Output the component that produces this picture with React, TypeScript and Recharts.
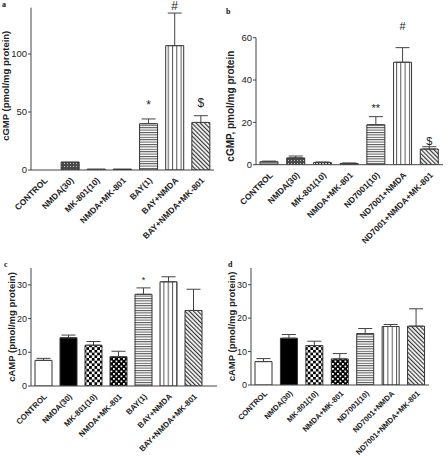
import React from "react";
import { BarChart, Bar, XAxis, YAxis, ErrorBar, Cell, LabelList } from "recharts";

// treatment groups
const bayGroups = ["CONTROL", "NMDA(30)", "MK-801(10)", "NMDA+MK-801", "BAY(1)", "BAY+NMDA", "BAY+NMDA+MK-801"];
const ndGroups = ["CONTROL", "NMDA(30)", "MK-801(10)", "NMDA+MK-801", "ND7001(10)", "ND7001+NMDA", "ND7001+NMDA+MK-801"];

// panel a: cGMP, BAY
const cgmpBayMean = [0, 6.9, 0.8, 0.8, 39.9, 107.2, 41];
const cgmpBayErr = [null, null, null, null, 4.1, 28.1, 5.8];
const cgmpBayMark = ["", "", "", "", "*", "#", "$"];

// panel b: cGMP, ND7001
const cgmpNdMean = [1.4, 3.2, 1.0, 0.6, 18.9, 48.4, 7.4];
const cgmpNdErr = [0.3, 0.9, 0.3, 0.2, 3.8, 6.9, 1.1];
const cgmpNdMark = ["", "", "", "", "**", "#", "$"];

// panel c: cAMP, BAY
const campBayMean = [7.6, 14.3, 12.1, 8.7, 27.2, 30.9, 22.4];
const campBayErr = [0.6, 0.8, 1.1, 1.6, 1.9, 1.5, 6.3];
const campBayMark = ["", "", "", "", "*", "", ""];

// panel d: cAMP, ND7001
const campNdMean = [7.0, 14.0, 11.8, 7.8, 15.4, 17.5, 17.6];
const campNdErr = [0.9, 1.1, 1.3, 1.6, 1.5, 0.6, 5.2];
const campNdMark = ["", "", "", "", "", "", ""];

const SANS = "'Liberation Sans', Arial, sans-serif";
const INK = "#222";
const AXIS = "#444";

const fillsTop = ["#ffffff", "url(#p-dark)", "url(#p-dots)", "#333", "url(#p-hlines)", "url(#p-vlines)", "url(#p-diag)"];
const fillsTopB = ["#9a9a9a", "url(#p-dark)", "url(#p-dots)", "#333", "url(#p-hlines)", "url(#p-vlines)", "url(#p-diag)"];
const fillsBottom = ["#ffffff", "#000000", "url(#p-check)", "url(#p-blackdots)", "url(#p-hlines)", "url(#p-vlines)", "url(#p-diag)"];

const Patterns = () => (
  <svg width={0} height={0} style={{ position: "absolute" }}>
    <defs>
      <pattern id="p-dark" width={3} height={3} patternUnits="userSpaceOnUse">
        <rect width={3} height={3} fill="#4a4a4a" />
        <rect x={1} y={1} width={1} height={1} fill="#c8c8c8" />
      </pattern>
      <pattern id="p-dots" width={3} height={3} patternUnits="userSpaceOnUse">
        <rect width={3} height={3} fill="#fff" />
        <rect x={1} y={1} width={1.2} height={1.2} fill="#222" />
      </pattern>
      <pattern id="p-check" width={5.4} height={5.4} patternUnits="userSpaceOnUse">
        <rect width={5.4} height={5.4} fill="#fff" />
        <rect width={2.7} height={2.7} fill="#000" />
        <rect x={2.7} y={2.7} width={2.7} height={2.7} fill="#000" />
      </pattern>
      <pattern id="p-blackdots" width={5} height={5} patternUnits="userSpaceOnUse">
        <rect width={5} height={5} fill="#000" />
        <rect x={0.5} y={0.5} width={1.8} height={1.8} fill="#fff" />
        <rect x={3} y={3} width={1.8} height={1.8} fill="#fff" />
      </pattern>
      <pattern id="p-hlines" width={4} height={2.4} patternUnits="userSpaceOnUse">
        <rect width={4} height={2.4} fill="#fff" />
        <rect y={0} width={4} height={1} fill="#555" />
      </pattern>
      <pattern id="p-vlines" width={4.3} height={4} patternUnits="userSpaceOnUse">
        <rect width={4.3} height={4} fill="#fff" />
        <rect x={0} width={1} height={4} fill="#555" />
      </pattern>
      <pattern id="p-diag" width={3} height={3} patternUnits="userSpaceOnUse" patternTransform="rotate(-45)">
        <rect width={3} height={3} fill="#fff" />
        <rect x={0} width={1.2} height={3} fill="#333" />
      </pattern>
    </defs>
  </svg>
);

const CatTick = ({ x, y, payload, fs, drop }: any) => {
  const ax = x + 4;
  const ay = y + drop;
  return (
    <text
      x={ax}
      y={ay}
      transform={`rotate(-45, ${ax}, ${ay})`}
      textAnchor="end"
      fontSize={fs}
      fontWeight="bold"
      fontFamily={SANS}
      fill={INK}
    >
      {payload.value}
    </text>
  );
};

const YLabel = ({ viewBox, text, cx, fs, dy }: any) => {
  const cy = viewBox.y + viewBox.height / 2 + dy;
  return (
    <text
      x={cx}
      y={cy}
      transform={`rotate(-90, ${cx}, ${cy})`}
      textAnchor="middle"
      dominantBaseline="central"
      fontSize={fs}
      fontWeight="bold"
      fontFamily={SANS}
      fill={INK}
    >
      {text}
    </text>
  );
};

function Panel(props: any) {
  const { left, top, w, h, plotL, plotR, plotT, plotB, groups, mean, err, mark, fills, domain, ticks, padRight, barSize,
    yLabel, yLabelX, yLabelDy, yLabelFs, tickFs, catFs, catDrop, markFs, markLift } = props;

  const rows = groups.map((g: string, i: number) => ({
    name: g,
    mean: mean[i],
    err: err[i] == null ? null : [0, err[i]],
  }));

  // marks (* # $) sit just above each error bar
  const renderMark = (p: any) => {
    const vb = p.viewBox || p;
    const i = groups.indexOf(p.value);
    if (i < 0 || !mark[i]) return null;
    const v = mean[i];
    const e = err[i] || 0;
    const topPx = vb.y - (vb.height / v) * e;
    return (
      <text key={`m-${i}`} x={vb.x + vb.width / 2} y={topPx - markLift[i]} textAnchor="middle" fontSize={markFs} fontFamily={SANS} fill={INK}>
        {mark[i]}
      </text>
    );
  };

  return (
    <div style={{ position: "absolute", left, top }}>
      <BarChart
        width={w}
        height={h}
        data={rows}
        margin={{ top: plotT, right: w - plotR, bottom: 0, left: 0 }}
        barSize={barSize}
      >
        <XAxis
          dataKey="name"
          height={h - plotB}
          interval={0}
          tickLine={false}
          tickSize={0}
          axisLine={{ stroke: AXIS }}
          padding={{ left: 0, right: padRight }}
          tick={<CatTick fs={catFs} drop={catDrop} />}
        />
        <YAxis
          width={plotL}
          domain={domain}
          ticks={ticks}
          allowDataOverflow
          tickSize={3}
          tickMargin={1}
          axisLine={{ stroke: AXIS }}
          tickLine={{ stroke: AXIS }}
          tick={{ fontSize: tickFs, fill: INK, fontFamily: SANS }}
          label={<YLabel text={yLabel} cx={yLabelX} fs={yLabelFs} dy={yLabelDy} />}
        />
        <Bar dataKey="mean" stroke="#333" strokeWidth={1} isAnimationActive={false}>
          {rows.map((r: any, i: number) => (
            <Cell key={`c-${i}`} fill={fills[i]} />
          ))}
          <ErrorBar dataKey="err" direction="y" width={7} stroke={AXIS} strokeWidth={1} isAnimationActive={false} />
          <LabelList dataKey="name" content={renderMark} />
        </Bar>
      </BarChart>
    </div>
  );
}

const letterStyle: React.CSSProperties = {
  position: "absolute",
  fontFamily: "'Liberation Serif', serif",
  fontWeight: "bold",
  fontSize: 8,
  lineHeight: "8px",
  color: "#111",
};

export default function App() {
  return (
    <div style={{ position: "absolute", left: 0, top: 0, width: 448, height: 456, background: "#fff", overflow: "hidden" }}>
      <Patterns />
      <Panel
        left={0} top={0} w={224} h={245}
        plotL={31} plotR={214} plotT={7.6} plotB={170}
        groups={bayGroups} mean={cgmpBayMean} err={cgmpBayErr} mark={cgmpBayMark} fills={fillsTop}
        domain={[0, 140]} ticks={[0, 50, 100]} padRight={0} barSize={18}
        yLabel="cGMP (pmol/mg protein)" yLabelX={6} yLabelDy={-3} yLabelFs={9.5}
        tickFs={9.5} catFs={8.5} catDrop={9} markFs={12} markLift={[0, 0, 0, 0, 10, 3, 9]}
      />
      <Panel
        left={224} top={0} w={224} h={245}
        plotL={32} plotR={219} plotT={37.7} plotB={164.7}
        groups={ndGroups} mean={cgmpNdMean} err={cgmpNdErr} mark={cgmpNdMark} fills={fillsTopB}
        domain={[0, 60]} ticks={[0, 20, 40, 60]} padRight={0} barSize={18}
        yLabel="cGMP, pmol/mg protein" yLabelX={7} yLabelDy={5} yLabelFs={10}
        tickFs={9.5} catFs={8.5} catDrop={9} markFs={11} markLift={[0, 0, 0, 0, 5, 18, 2]}
      />
      <Panel
        left={0} top={250} w={224} h={206}
        plotL={31} plotR={217} plotT={18} plotB={136}
        groups={bayGroups} mean={campBayMean} err={campBayErr} mark={campBayMark} fills={fillsBottom}
        domain={[0, 35]} ticks={[0, 10, 20, 30]} padRight={11} barSize={17}
        yLabel="cAMP (pmol/mg protein)" yLabelX={11} yLabelDy={0} yLabelFs={9.5}
        tickFs={9} catFs={8} catDrop={9} markFs={9} markLift={[0, 0, 0, 0, 5, 0, 0]}
      />
      <Panel
        left={224} top={250} w={224} h={206}
        plotL={27} plotR={205} plotT={18} plotB={135}
        groups={ndGroups} mean={campNdMean} err={campNdErr} mark={campNdMark} fills={fillsBottom}
        domain={[0, 35]} ticks={[0, 10, 20, 30]} padRight={0} barSize={17}
        yLabel="cAMP (pmol/mg protein)" yLabelX={7} yLabelDy={0} yLabelFs={9.5}
        tickFs={9} catFs={7.6} catDrop={7} markFs={9} markLift={[0, 0, 0, 0, 0, 0, 0]}
      />
      <div style={{ ...letterStyle, left: 2, top: 1 }}>a</div>
      <div style={{ ...letterStyle, left: 226, top: 8 }}>b</div>
      <div style={{ ...letterStyle, left: 4, top: 261 }}>c</div>
      <div style={{ ...letterStyle, left: 228, top: 261 }}>d</div>
    </div>
  );
}
